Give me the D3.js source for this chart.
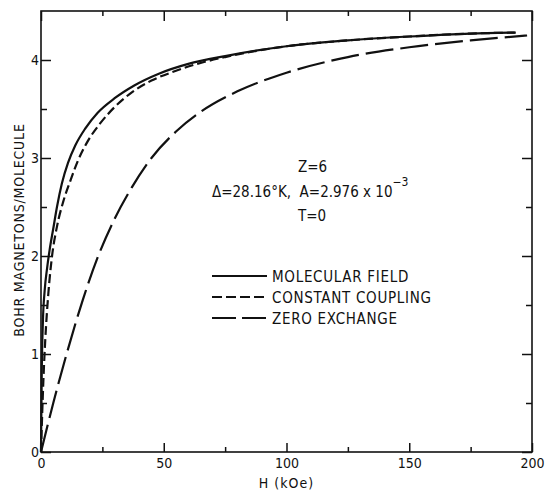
<!DOCTYPE html>
<html>
<head>
<meta charset="utf-8">
<script src="https://cdn.jsdelivr.net/npm/d3@7"></script>
<style>
  body { margin: 0; background: #fff; }
  svg text { font-family: "DejaVu Sans Condensed", "Liberation Sans Narrow", sans-serif; fill: #111; }
</style>
</head>
<body>
<div id="chart"></div>
<script>
// values
var hField = [0, 0.3, 0.8, 1.5, 2.5, 3.5, 5, 6.5, 8.5, 11, 14, 18, 23, 30, 38, 48, 60, 75, 100, 125, 150, 175, 193];
var mField = [0, 0.8, 1.35, 1.65, 1.88, 2.06, 2.28, 2.5, 2.74, 2.95, 3.13, 3.3, 3.46, 3.61, 3.74, 3.86, 3.96, 4.04, 4.14, 4.2, 4.24, 4.27, 4.28];

var hCoupling = [0, 0.5, 1, 1.75, 3, 4.5, 6.5, 9, 12, 15, 19, 24, 30, 37, 45, 55, 65, 75, 100, 125, 150, 175, 195];
var mCoupling = [0, 0.4, 0.75, 1.15, 1.62, 2.0, 2.3, 2.55, 2.77, 2.97, 3.17, 3.35, 3.52, 3.67, 3.79, 3.89, 3.97, 4.03, 4.14, 4.2, 4.24, 4.27, 4.28];

var hZero = [0, 5, 11, 17, 23, 30, 37, 45, 55, 65, 80, 100, 125, 150, 175, 198];
var mZero = [0, 0.5, 1.05, 1.55, 1.98, 2.38, 2.7, 3.0, 3.27, 3.47, 3.68, 3.87, 4.03, 4.13, 4.2, 4.25];

var xTicks = [0, 50, 100, 150, 200];
var xMinor = [25, 75, 125, 175];
var yTicks = [0, 1, 2, 3, 4];
var yMinor = [0.5, 1.5, 2.5, 3.5];

var legendNames = ["MOLECULAR FIELD", "CONSTANT COUPLING", "ZERO EXCHANGE"];

var width = 546, height = 493;

var x = d3.scaleLinear().domain([0, 200]).range([41, 532]);
var y = d3.scaleLinear().domain([0, 4.5]).range([452, 11]);

var svg = d3.select("#chart").append("svg")
  .attr("width", width)
  .attr("height", height);

// frame
svg.append("rect")
  .attr("x", x(0)).attr("y", y(4.5))
  .attr("width", x(200) - x(0)).attr("height", y(0) - y(4.5))
  .attr("fill", "none").attr("stroke", "#111").attr("stroke-width", 1.6);

function styleAxis(g) {
  g.select(".domain").remove();
  g.selectAll("line").attr("stroke", "#111").attr("stroke-width", 1.5);
  g.selectAll("text").style("font-size", "14px").attr("fill", "#111");
}

// bottom
svg.append("g").attr("transform", "translate(0," + y(0) + ")")
  .call(d3.axisBottom(x).tickValues(xTicks).tickSize(-9).tickPadding(6).tickFormat(d3.format("d")))
  .call(styleAxis);
svg.append("g").attr("transform", "translate(0," + y(0) + ")")
  .call(d3.axisBottom(x).tickValues(xMinor).tickSize(-5).tickFormat(""))
  .call(styleAxis);
// top
svg.append("g").attr("transform", "translate(0," + y(4.5) + ")")
  .call(d3.axisTop(x).tickValues(xTicks).tickSize(-10).tickFormat(""))
  .call(styleAxis);
svg.append("g").attr("transform", "translate(0," + y(4.5) + ")")
  .call(d3.axisTop(x).tickValues(xMinor).tickSize(-5).tickFormat(""))
  .call(styleAxis);
// left
svg.append("g").attr("transform", "translate(" + x(0) + ",0)")
  .call(d3.axisLeft(y).tickValues(yTicks).tickSize(-10).tickPadding(2).tickFormat(d3.format("d")))
  .call(styleAxis);
svg.append("g").attr("transform", "translate(" + x(0) + ",0)")
  .call(d3.axisLeft(y).tickValues(yMinor).tickSize(-6).tickFormat(""))
  .call(styleAxis);
// right
svg.append("g").attr("transform", "translate(" + x(200) + ",0)")
  .call(d3.axisRight(y).tickValues(yTicks).tickSize(-10).tickFormat(""))
  .call(styleAxis);
svg.append("g").attr("transform", "translate(" + x(200) + ",0)")
  .call(d3.axisRight(y).tickValues(yMinor).tickSize(-6).tickFormat(""))
  .call(styleAxis);

// axis titles
svg.append("text")
  .attr("x", (x(0) + x(200)) / 2).attr("y", 488)
  .attr("text-anchor", "middle")
  .style("font-size", "14px").style("letter-spacing", "1px")
  .text("H (kOe)");

svg.append("text")
  .attr("transform", "translate(24,230) rotate(-90)")
  .attr("text-anchor", "middle")
  .style("font-size", "14px").style("letter-spacing", "0.8px")
  .text("BOHR MAGNETONS/MOLECULE");

// curves
var line = d3.line()
  .x(function(d) { return x(d[0]); })
  .y(function(d) { return y(d[1]); })
  .curve(d3.curveMonotoneX);

var series = [
  { h: hField, m: mField, dash: null },
  { h: hCoupling, m: mCoupling, dash: "9,4" },
  { h: hZero, m: mZero, dash: "28,7" }
];

series.forEach(function(s) {
  var pts = s.h.map(function(h, i) { return [h, s.m[i]]; });
  svg.append("path")
    .datum(pts)
    .attr("d", line)
    .attr("fill", "none")
    .attr("stroke", "#111")
    .attr("stroke-width", 2.2)
    .attr("stroke-dasharray", s.dash);
});

// parameters
var params = svg.append("g").style("font-size", "15px");
params.append("text").attr("x", 298).attr("y", 172).text("Z=6");
var t2 = params.append("text").attr("x", 212).attr("y", 197);
t2.append("tspan").text("\u0394=28.16\u00b0K,\u00a0\u00a0A=2.976 x 10");
t2.append("tspan").attr("dy", -11).style("font-size", "12px").text("\u22123");
params.append("text").attr("x", 298).attr("y", 221).text("T=0");

// legend
var legendDash = [null, "10,4", "24,6"];
var lg = svg.append("g");
legendNames.forEach(function(name, i) {
  var yy = 276 + i * 21;
  lg.append("line")
    .attr("x1", 212).attr("x2", 267)
    .attr("y1", yy).attr("y2", yy)
    .attr("stroke", "#111").attr("stroke-width", 2)
    .attr("stroke-dasharray", legendDash[i]);
  lg.append("text")
    .attr("x", 272).attr("y", yy + 6)
    .style("font-size", "15px").style("letter-spacing", "0.7px")
    .text(name);
});
</script>
</body>
</html>
